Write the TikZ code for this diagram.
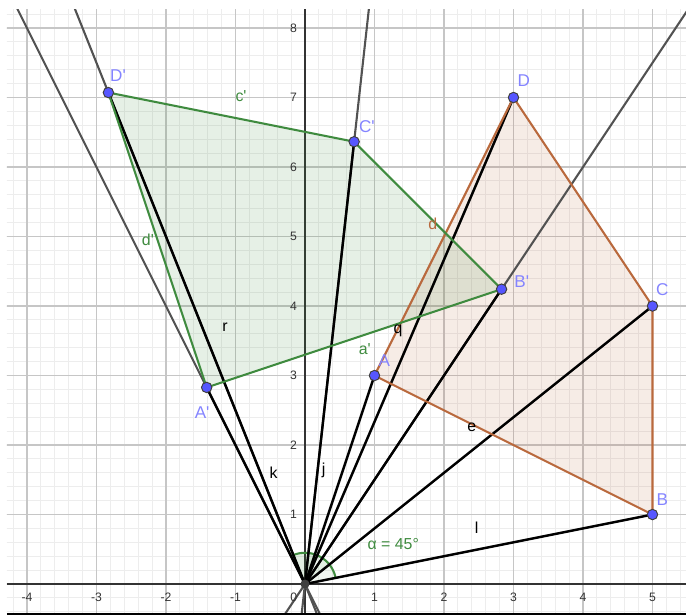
\documentclass[tikz,border=0pt]{standalone}
\usepackage{fontspec}
\setmainfont{Liberation Sans}
\usetikzlibrary{calc}

\definecolor{gridmajor}{HTML}{C6C6C6}
\definecolor{gridminor}{HTML}{EDEDED}
\definecolor{ggreen}{HTML}{3F8B3F}
\definecolor{gbrown}{HTML}{B9693D}
\definecolor{gpoint}{HTML}{5656FF}
\definecolor{glabel}{HTML}{8484FF}

\begin{document}
\begin{tikzpicture}[
    pt/.style={circle, draw=black!75, fill=gpoint, line width=0.4pt, minimum size=1.5mm, inner sep=0pt},
    ptlabel/.style={text=glabel, font=\fontsize{7}{8}\selectfont, inner sep=0pt},
    seglabel/.style={font=\fontsize{6.5}{7.5}\selectfont, inner sep=0pt},
    ticklabel/.style={text=black!80, font=\fontsize{5}{6}\selectfont, inner sep=0pt},
    ray/.style={draw=black!68, line width=0.85pt},
    seg/.style={draw=black, line width=1pt},
    greenedge/.style={draw=ggreen, line width=0.85pt},
    brownedge/.style={draw=gbrown, line width=0.85pt},
    arcedge/.style={draw=ggreen, line width=0.85pt}
]
    \useasboundingbox (-4.388,-0.446) rectangle (5.482,8.403);

    % Points
    \coordinate (O) at (0,0);
    \coordinate (A) at (1,3);
    \coordinate (B) at (5,1);
    \coordinate (C) at (5,4);
    \coordinate (D) at (3,7);
    \coordinate (Ap) at (-1.4142,2.8284);
    \coordinate (Bp) at (2.8284,4.2426);
    \coordinate (Cp) at (0.7071,6.3640);
    \coordinate (Dp) at (-2.8284,7.0711);

    \begin{scope}
        \clip (-4.29,-0.42) rectangle (5.482,8.27);
        % Grid and axes
        \draw[gridminor, line width=0.4pt, step=0.2] (-5,-1) grid (6,9);
        \draw[gridmajor, line width=0.45pt, step=1] (-5,-1) grid (6,9);
        \draw[black!80, line width=0.45pt] (-4.29,0) -- (5.482,0);
        \draw[black!80, line width=0.45pt] (0,-0.42) -- (0,8.27);

        % Polygons (fill)
        \fill[gbrown, fill opacity=0.13] (A) -- (B) -- (C) -- (D) -- cycle;
        \fill[ggreen, fill opacity=0.13] (Ap) -- (Bp) -- (Cp) -- (Dp) -- cycle;

        % Lines through the image points
        \draw[ray] ($(O)!-0.5!(Ap)$) -- ($(O)!3.5!(Ap)$);
        \draw[ray] ($(O)!-0.5!(Bp)$) -- ($(O)!3.5!(Bp)$);
        \draw[ray] ($(O)!-0.5!(Cp)$) -- ($(O)!3.5!(Cp)$);
        \draw[ray] ($(O)!-0.5!(Dp)$) -- ($(O)!3.5!(Dp)$);
    \end{scope}
    \draw[black, line width=0.8pt] (-4.29,-0.43) -- (5.482,-0.43);

    % Axis numbers
    \node[ticklabel] (xm4) at (-4,-0.19) {-4};
    \node[ticklabel] (xm3) at (-3,-0.19) {-3};
    \node[ticklabel] (xm2) at (-2,-0.19) {-2};
    \node[ticklabel] (xm1) at (-1,-0.19) {-1};
    \node[ticklabel] (x0) at (-0.16,-0.19) {0};
    \node[ticklabel] (x1) at (1,-0.19) {1};
    \node[ticklabel] (x2) at (2,-0.19) {2};
    \node[ticklabel] (x3) at (3,-0.19) {3};
    \node[ticklabel] (x4) at (4,-0.19) {4};
    \node[ticklabel] (x5) at (5,-0.19) {5};
    \node[ticklabel, anchor=east] (y1) at (-0.11,1) {1};
    \node[ticklabel, anchor=east] (y2) at (-0.11,2) {2};
    \node[ticklabel, anchor=east] (y3) at (-0.11,3) {3};
    \node[ticklabel, anchor=east] (y4) at (-0.11,4) {4};
    \node[ticklabel, anchor=east] (y5) at (-0.11,5) {5};
    \node[ticklabel, anchor=east] (y6) at (-0.11,6) {6};
    \node[ticklabel, anchor=east] (y7) at (-0.11,7) {7};
    \node[ticklabel, anchor=east] (y8) at (-0.11,8) {8};

    % Rotation angles
    \fill[ggreen, fill opacity=0.08] (O) -- ++(11.31:0.45) arc[start angle=11.31, end angle=56.31, radius=0.45] -- cycle;
    \fill[ggreen, fill opacity=0.08] (O) -- ++(38.66:0.45) arc[start angle=38.66, end angle=83.66, radius=0.45] -- cycle;
    \fill[ggreen, fill opacity=0.08] (O) -- ++(66.80:0.45) arc[start angle=66.80, end angle=111.80, radius=0.45] -- cycle;
    \fill[ggreen, fill opacity=0.08] (O) -- ++(71.57:0.45) arc[start angle=71.57, end angle=116.57, radius=0.45] -- cycle;
    \draw[arcedge] ($(O)+(11.31:0.45)$) arc[start angle=11.31, end angle=116.57, radius=0.45];

    % Segments from the centre
    \draw[seg] (O) -- (A);
    \draw[seg] (O) -- (B);
    \draw[seg] (O) -- (C);
    \draw[seg] (O) -- (D);
    \draw[seg] (O) -- (Ap);
    \draw[seg] (O) -- (Bp);
    \draw[seg] (O) -- (Cp);
    \draw[seg] (O) -- (Dp);

    % Polygon sides
    \draw[brownedge] (A) -- (B) -- (C) -- (D) -- cycle;
    \draw[greenedge] (Ap) -- (Bp) -- (Cp) -- (Dp) -- cycle;

    % Side and segment labels
    \node[seglabel, text=ggreen] (lblcp) at (-0.92,7.02) {c\textquotesingle};
    \node[seglabel, text=ggreen] (lbldp) at (-2.26,4.95) {d\textquotesingle};
    \node[seglabel, text=ggreen] (lblap) at (0.86,3.38) {a\textquotesingle};
    \node[seglabel, text=gbrown] (lbld) at (1.84,5.18) {d};
    \node[seglabel] (lblr) at (-1.15,3.70) {r};
    \node[seglabel] (lblk) at (-0.45,1.60) {k};
    \node[seglabel] (lblj) at (0.27,1.64) {j};
    \node[seglabel] (lblq) at (1.34,3.64) {q};
    \node[seglabel] (lble) at (2.40,2.26) {e};
    \node[seglabel] (lbll) at (2.47,0.81) {l};
    \node[seglabel, text=ggreen] (lblalpha) at (1.27,0.58) {α = 45°};

    % Point marks
    \node[circle, fill=black!75, inner sep=0pt, minimum size=1.3mm] (Odot) at (O) {};
    \node[pt] (Adot) at (A) {};
    \node[pt] (Bdot) at (B) {};
    \node[pt] (Cdot) at (C) {};
    \node[pt] (Ddot) at (D) {};
    \node[pt] (Apdot) at (Ap) {};
    \node[pt] (Bpdot) at (Bp) {};
    \node[pt] (Cpdot) at (Cp) {};
    \node[pt] (Dpdot) at (Dp) {};

    % Point labels
    \node[ptlabel] (lblA) at (1.14,3.22) {A};
    \node[ptlabel] (lblB) at (5.14,1.22) {B};
    \node[ptlabel] (lblC) at (5.14,4.23) {C};
    \node[ptlabel] (lblD) at (3.15,7.24) {D};
    \node[ptlabel] (lblAp) at (-1.48,2.47) {A\textquotesingle};
    \node[ptlabel] (lblBp) at (3.12,4.35) {B\textquotesingle};
    \node[ptlabel] (lblCp) at (0.89,6.58) {C\textquotesingle};
    \node[ptlabel] (lblDp) at (-2.69,7.31) {D\textquotesingle};
\end{tikzpicture}
\end{document}
